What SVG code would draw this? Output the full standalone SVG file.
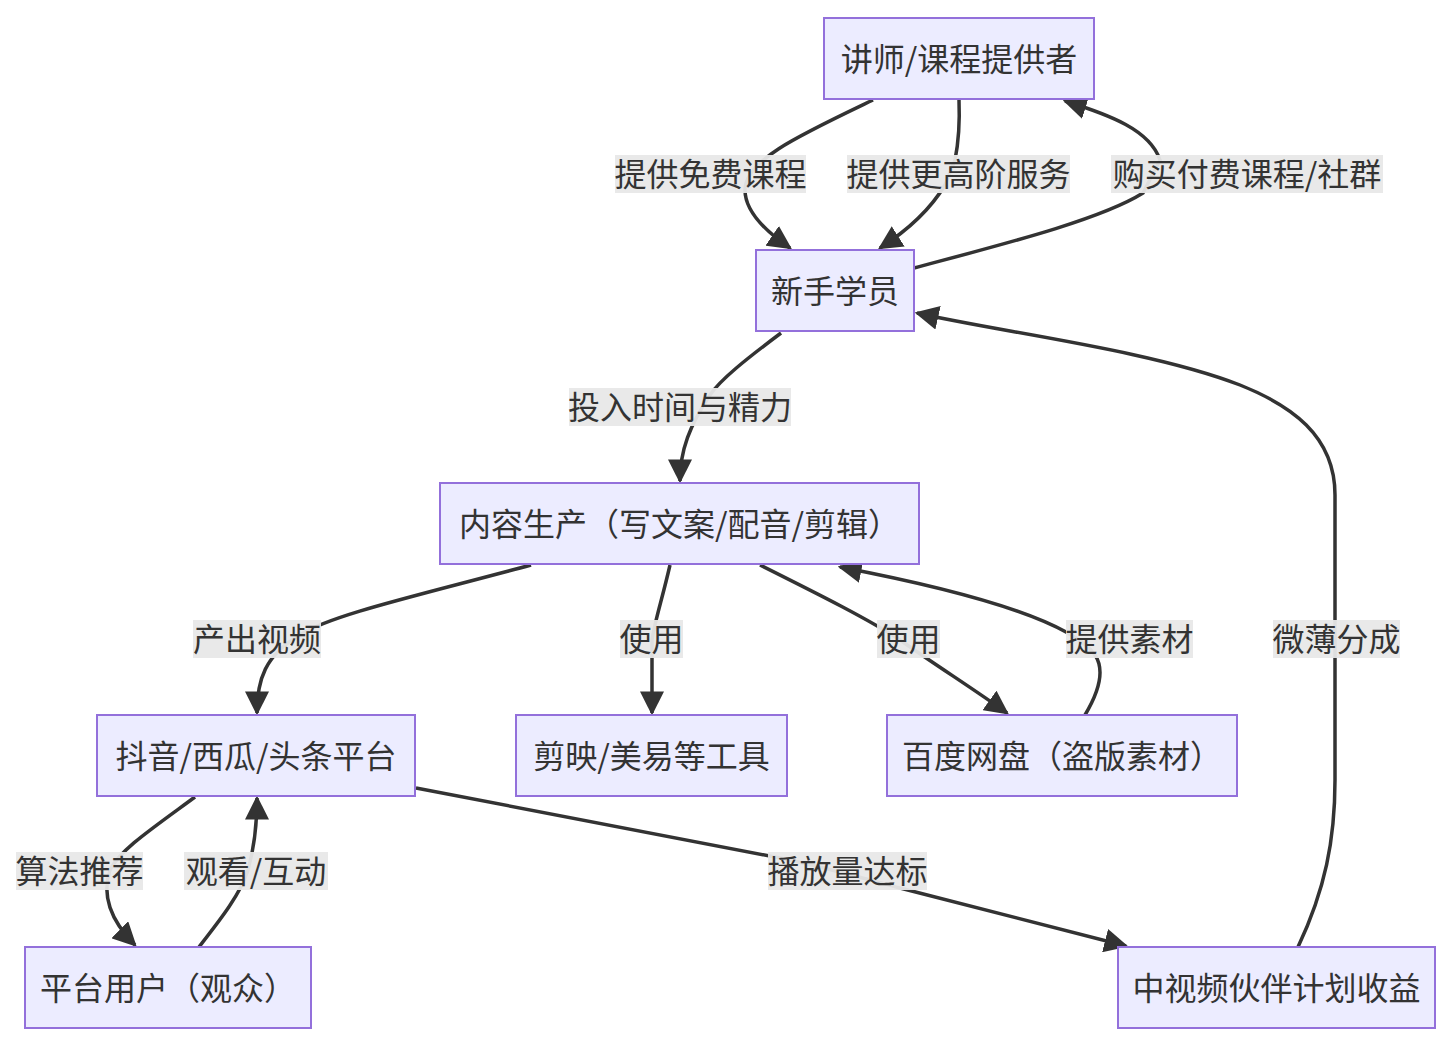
<svg xmlns="http://www.w3.org/2000/svg" width="1452" height="1046" viewBox="0 0 1452 1046">
<style>
.node rect{fill:#ECECFF;stroke:#9370DB;stroke-width:2}
text{font-family:"Noto Sans CJK SC","Noto Sans",sans-serif;font-size:32px;fill:#333;text-anchor:middle;dominant-baseline:central}
.edge{fill:none;stroke:#333;stroke-width:3.5}
.lbl rect{fill:#e8e8e8;opacity:0.95}
</style>
<defs>
<marker id="arr" viewBox="0 0 10 10" refX="9" refY="5" markerWidth="24" markerHeight="24" markerUnits="userSpaceOnUse" orient="auto">
<path d="M0,0 L10,5 L0,10 z" fill="#333"/>
</marker>
</defs>
<rect width="1452" height="1046" fill="#fff"/>
<g id="connectors">
<path class="edge" marker-end="url(#arr)" d="M873,100 C800,135 745,160 745,190 C745,212 768,233 790,248"/>
<path class="edge" marker-end="url(#arr)" d="M959,100 C960,125 958,145 955,160 L945,185 C930,210 905,232 880,248"/>
<path class="edge" marker-end="url(#arr)" d="M914,268 C1000,245 1100,220 1143,193 L1160,160 C1150,130 1110,115 1065,101"/>
<path class="edge" marker-end="url(#arr)" d="M781,333 C745,360 720,380 710,395 C690,425 680,450 680,481"/>
<path class="edge" marker-end="url(#arr)" d="M531,565 C420,595 330,615 300,635 C265,655 257,680 257,713"/>
<path class="edge" marker-end="url(#arr)" d="M670,565 C662,600 655,620 652,640 L652,713"/>
<path class="edge" marker-end="url(#arr)" d="M760,565 C820,595 870,620 900,640 C940,668 975,690 1007,713"/>
<path class="edge" marker-end="url(#arr)" d="M1085,715 C1100,690 1105,670 1095,655 C1070,620 960,590 840,567"/>
<path class="edge" marker-end="url(#arr)" d="M1298,947 C1325,890 1335,840 1335,780 L1335,495 C1335,435 1290,405 1240,385 C1150,350 1000,332 917,313"/>
<path class="edge" marker-end="url(#arr)" d="M416,788 L780,858 C820,866 870,880 900,888 L1126,946"/>
<path class="edge" marker-end="url(#arr)" d="M195,797 C150,830 120,850 110,870 C100,900 115,925 135,945"/>
<path class="edge" marker-end="url(#arr)" d="M199,947 C220,920 240,895 248,870 C255,845 257,825 257,798"/>
</g>
<g id="edge-labels">
<g class="lbl"><rect x="615" y="155" width="191" height="38"/><text x="710.5" y="172">提供免费课程</text></g>
<g class="lbl"><rect x="847" y="155" width="223" height="38"/><text x="958.5" y="172">提供更高阶服务</text></g>
<g class="lbl"><rect x="1111" y="155" width="272" height="38"/><text x="1247" y="172">购买付费课程/社群</text></g>
<g class="lbl"><rect x="569" y="388" width="222" height="38"/><text x="680" y="405">投入时间与精力</text></g>
<g class="lbl"><rect x="193" y="620" width="128" height="38"/><text x="257" y="637">产出视频</text></g>
<g class="lbl"><rect x="620" y="620" width="63" height="38"/><text x="651.5" y="637">使用</text></g>
<g class="lbl"><rect x="877" y="620" width="63" height="38"/><text x="908.5" y="637">使用</text></g>
<g class="lbl"><rect x="1066" y="620" width="127" height="38"/><text x="1129.5" y="637">提供素材</text></g>
<g class="lbl"><rect x="1273" y="620" width="127" height="38"/><text x="1336.5" y="637">微薄分成</text></g>
<g class="lbl"><rect x="16" y="852" width="127" height="38"/><text x="79.5" y="869">算法推荐</text></g>
<g class="lbl"><rect x="184" y="852" width="144" height="38"/><text x="256" y="869">观看/互动</text></g>
<g class="lbl"><rect x="768" y="852" width="159" height="38"/><text x="847.5" y="869">播放量达标</text></g>
</g>
<g id="nodeA" class="node"><rect x="824" y="18" width="270" height="81"/><text x="959" y="56.5">讲师/课程提供者</text></g>
<g id="nodeB" class="node"><rect x="756" y="250" width="158" height="81"/><text x="835" y="288.5">新手学员</text></g>
<g id="nodeC" class="node"><rect x="440" y="483" width="479" height="81"/><text x="679.5" y="521.5">内容生产（写文案/配音/剪辑）</text></g>
<g id="nodeD" class="node"><rect x="97" y="715" width="318" height="81"/><text x="256" y="753.5">抖音/西瓜/头条平台</text></g>
<g id="nodeE" class="node"><rect x="516" y="715" width="271" height="81"/><text x="651.5" y="753.5">剪映/美易等工具</text></g>
<g id="nodeF" class="node"><rect x="887" y="715" width="350" height="81"/><text x="1062" y="753.5">百度网盘（盗版素材）</text></g>
<g id="nodeG" class="node"><rect x="25" y="947" width="286" height="81"/><text x="168" y="985.5">平台用户（观众）</text></g>
<g id="nodeH" class="node"><rect x="1118" y="947" width="317" height="81"/><text x="1276.5" y="985.5">中视频伙伴计划收益</text></g>
</svg>
